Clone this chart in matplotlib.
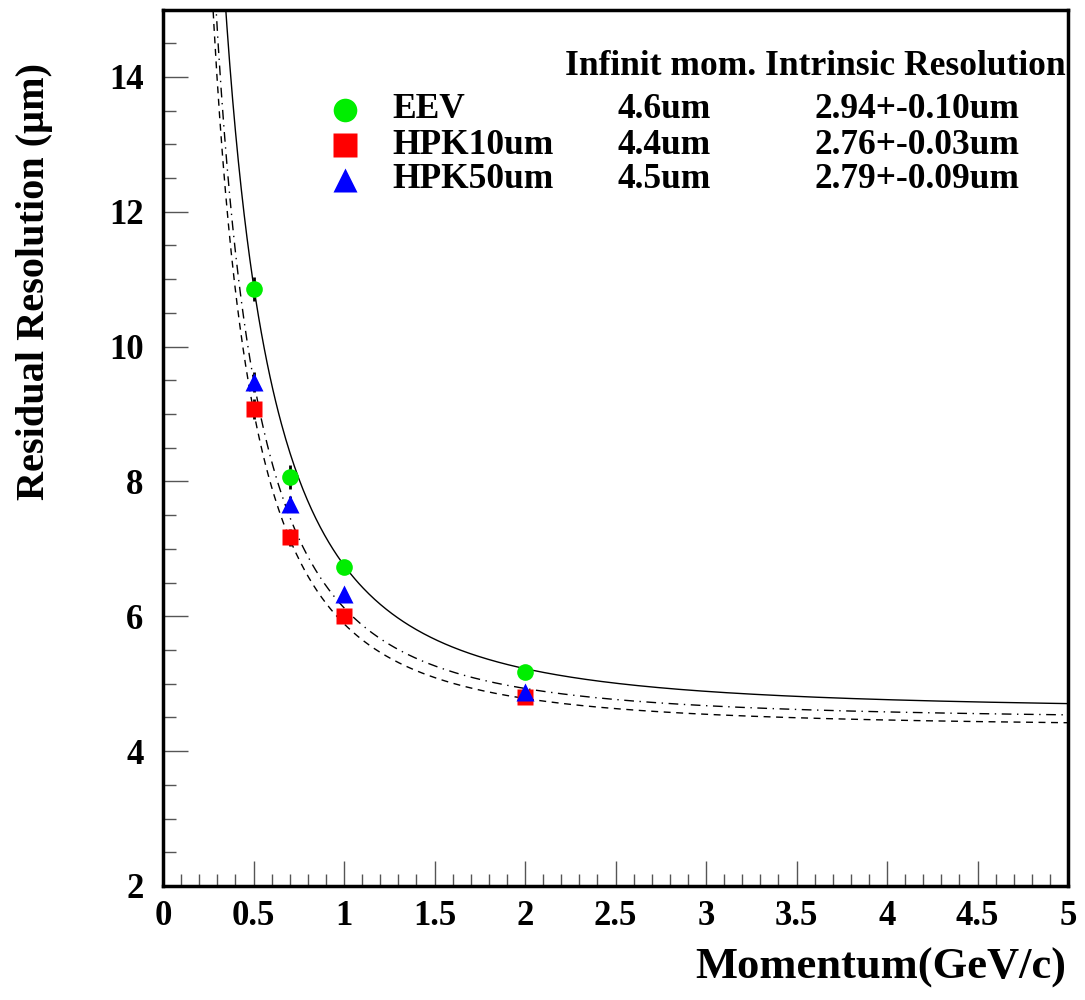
import matplotlib.pyplot as plt
import numpy as np
from matplotlib.ticker import MultipleLocator, FormatStrFormatter

plt.rcParams['font.family'] = ['Liberation Serif', 'DejaVu Serif']
plt.rcParams['font.weight'] = 'bold'

# measured points
p = [0.5, 0.7, 1.0, 2.0]
eev = [10.85, 8.07, 6.73, 5.18]
hpk10 = [9.08, 7.17, 6.00, 4.80]
hpk50 = [9.47, 7.67, 6.33, 4.88]
eev_err = [0.18, 0.18, 0.08, 0.06]
hpk10_err = [0.15, 0.12, 0.06, 0.05]
hpk50_err = [0.15, 0.12, 0.06, 0.05]

# table text
names = ['EEV', 'HPK10um', 'HPK50um']
inf_mom = [4.6, 4.4, 4.5]
intrinsic = ['2.94+-0.10um', '2.76+-0.03um', '2.79+-0.09um']

# fit curves as drawn: sigma = sqrt(a^2 + (b/p)^2)
fit_a = [4.6, 4.35, 4.46]
fit_b = [4.95, 3.97, 4.2]

fig = plt.figure(figsize=(10.85, 10), dpi=100)
ax = fig.add_axes([163/1085, 1-886/1000, (1068-163)/1085, (886-9.5)/1000])

pp = np.linspace(0.25, 5, 600)
styles = ['-', (0, (5, 4)), (0, (7, 4, 1, 4))]
for a, b, ls in zip(fit_a, fit_b, styles):
    ax.plot(pp, np.sqrt(a**2 + (b/pp)**2), color='black', lw=1, ls=ls)

ax.errorbar(p, eev, yerr=eev_err, fmt='none', ecolor='black', elinewidth=2)
ax.errorbar(p, hpk10, yerr=hpk10_err, fmt='none', ecolor='black', elinewidth=2)
ax.errorbar(p, hpk50, yerr=hpk50_err, fmt='none', ecolor='black', elinewidth=2)
ax.plot(p, eev, 'o', color='#00ee00', ms=12, mec='none', zorder=3)
ax.plot(p, hpk10, 's', color='#ff0000', ms=12, mec='none', zorder=3)
ax.plot(p, hpk50, '^', color='#0000ff', ms=13, mec='none', zorder=4)

ax.set_xlim(0, 5)
ax.set_ylim(2, 15)
ax.xaxis.set_major_locator(MultipleLocator(0.5))
ax.xaxis.set_minor_locator(MultipleLocator(0.1))
ax.xaxis.set_major_formatter(FormatStrFormatter('%g'))
ax.yaxis.set_major_locator(MultipleLocator(2))
ax.yaxis.set_minor_locator(MultipleLocator(0.5))
ax.tick_params(which='major', direction='in', length=18, width=1, color='#555555',
               labelsize=25, pad=10)
ax.tick_params(which='minor', direction='in', length=9, width=1, color='#555555')
ax.tick_params(axis='y', pad=14)
for lab in ax.get_xticklabels() + ax.get_yticklabels():
    lab.set_fontweight('bold')
for s in ax.spines.values():
    s.set_linewidth(2.5)

fig.text(1066/1085, 1-968/1000, 'Momentum(GeV/c)', ha='right', va='center',
         fontsize=32, fontweight='bold')
fig.text(35/1085, 1-282/1000, 'Residual Resolution (\u03bcm)', rotation=90,
         ha='center', va='center', fontsize=29, fontweight='bold')

# legend / table
fig.text(565/1085, 1-66/1000, 'Infinit mom. Intrinsic Resolution', ha='left',
         va='center', fontsize=25.5, fontweight='bold')
mk = [('o', '#00ee00'), ('s', '#ff0000'), ('^', '#0000ff')]
rows_y = [110, 145, 180]
for i in range(3):
    yy = 1 - rows_y[i]/1000
    fig.lines.append(plt.Line2D([345/1085], [yy], marker=mk[i][0], color=mk[i][1],
                                ms=17, mec='none', transform=fig.transFigure))
    fig.text(392/1085, yy, names[i], ha='left', va='center', fontsize=25.5, fontweight='bold')
    fig.text(618/1085, yy, '%.1fum' % inf_mom[i], ha='left', va='center',
             fontsize=25.5, fontweight='bold')
    fig.text(815/1085, yy, intrinsic[i], ha='left', va='center', fontsize=25.5,
             fontweight='bold')

fig.savefig('out.png', dpi=100)
